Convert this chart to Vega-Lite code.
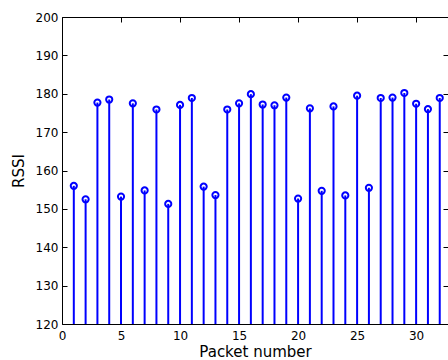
{
  "$schema": "https://vega.github.io/schema/vega-lite/v6.json",
  "width": 386,
  "height": 307,
  "autosize": {"type": "none"},
  "padding": {"left": 62, "top": 17, "right": 0, "bottom": 36},
  "background": "white",
  "config": {
    "view": {"stroke": null},
    "font": "DejaVu Sans",
    "axis": {
      "grid": false,
      "domainColor": "black",
      "domainWidth": 1,
      "tickColor": "black",
      "tickWidth": 1,
      "labelColor": "black",
      "titleColor": "black",
      "labelFontSize": 12,
      "titleFontSize": 15,
      "titleFontWeight": "normal",
      "labelFont": "DejaVu Sans",
      "titleFont": "DejaVu Sans",
      "labelOverlap": false,
      "labelFlush": false
    }
  },
  "data": {
    "values": [
      {"packet": 1, "rssi": 156.0},
      {"packet": 2, "rssi": 152.5},
      {"packet": 3, "rssi": 177.7},
      {"packet": 4, "rssi": 178.5},
      {"packet": 5, "rssi": 153.2},
      {"packet": 6, "rssi": 177.5},
      {"packet": 7, "rssi": 154.8},
      {"packet": 8, "rssi": 175.9},
      {"packet": 9, "rssi": 151.3},
      {"packet": 10, "rssi": 177.1},
      {"packet": 11, "rssi": 178.9},
      {"packet": 12, "rssi": 155.8},
      {"packet": 13, "rssi": 153.6},
      {"packet": 14, "rssi": 175.9},
      {"packet": 15, "rssi": 177.5},
      {"packet": 16, "rssi": 179.9},
      {"packet": 17, "rssi": 177.2},
      {"packet": 18, "rssi": 177.0},
      {"packet": 19, "rssi": 179.0},
      {"packet": 20, "rssi": 152.7},
      {"packet": 21, "rssi": 176.2},
      {"packet": 22, "rssi": 154.7},
      {"packet": 23, "rssi": 176.7},
      {"packet": 24, "rssi": 153.5},
      {"packet": 25, "rssi": 179.5},
      {"packet": 26, "rssi": 155.5},
      {"packet": 27, "rssi": 178.9},
      {"packet": 28, "rssi": 179.0},
      {"packet": 29, "rssi": 180.2},
      {"packet": 30, "rssi": 177.4},
      {"packet": 31, "rssi": 176.0},
      {"packet": 32, "rssi": 178.9}
    ]
  },
  "layer": [
    {
      "mark": {"type": "rule", "color": "#0000FF", "strokeWidth": 2},
      "encoding": {
        "x": {
          "field": "packet",
          "type": "quantitative",
          "scale": {"domain": [0, 32.7], "nice": false, "zero": false},
          "axis": {"title": "Packet number", "values": [0, 5, 10, 15, 20, 25, 30], "tickSize": -5, "labelPadding": 11, "titlePadding": 3}
        },
        "y": {
          "field": "rssi",
          "type": "quantitative",
          "scale": {"domain": [120, 200], "nice": false, "zero": false},
          "axis": {"title": "RSSI", "values": [120, 130, 140, 150, 160, 170, 180, 190, 200], "tickSize": -5, "labelPadding": 9, "titlePadding": 9}
        },
        "y2": {"datum": 120}
      }
    },
    {
      "mark": {"type": "point", "shape": "circle", "filled": false, "color": "#0000FF", "strokeWidth": 2, "size": 38, "opacity": 1},
      "encoding": {
        "x": {"field": "packet", "type": "quantitative", "axis": null},
        "y": {"field": "rssi", "type": "quantitative", "axis": null}
      }
    },
    {
      "data": {"values": [{"packet": 0, "rssi": 120}]},
      "mark": {"type": "point", "opacity": 0},
      "encoding": {
        "x": {
          "field": "packet",
          "type": "quantitative",
          "axis": {"orient": "top", "title": null, "labels": false, "values": [0, 5, 10, 15, 20, 25, 30], "tickSize": -5}
        },
        "y": {
          "field": "rssi",
          "type": "quantitative",
          "axis": {"orient": "right", "title": null, "labels": false, "domain": false, "values": [120, 130, 140, 150, 160, 170, 180, 190, 200], "tickSize": -5}
        }
      }
    }
  ],
  "resolve": {"axis": {"x": "independent", "y": "independent"}}
}
